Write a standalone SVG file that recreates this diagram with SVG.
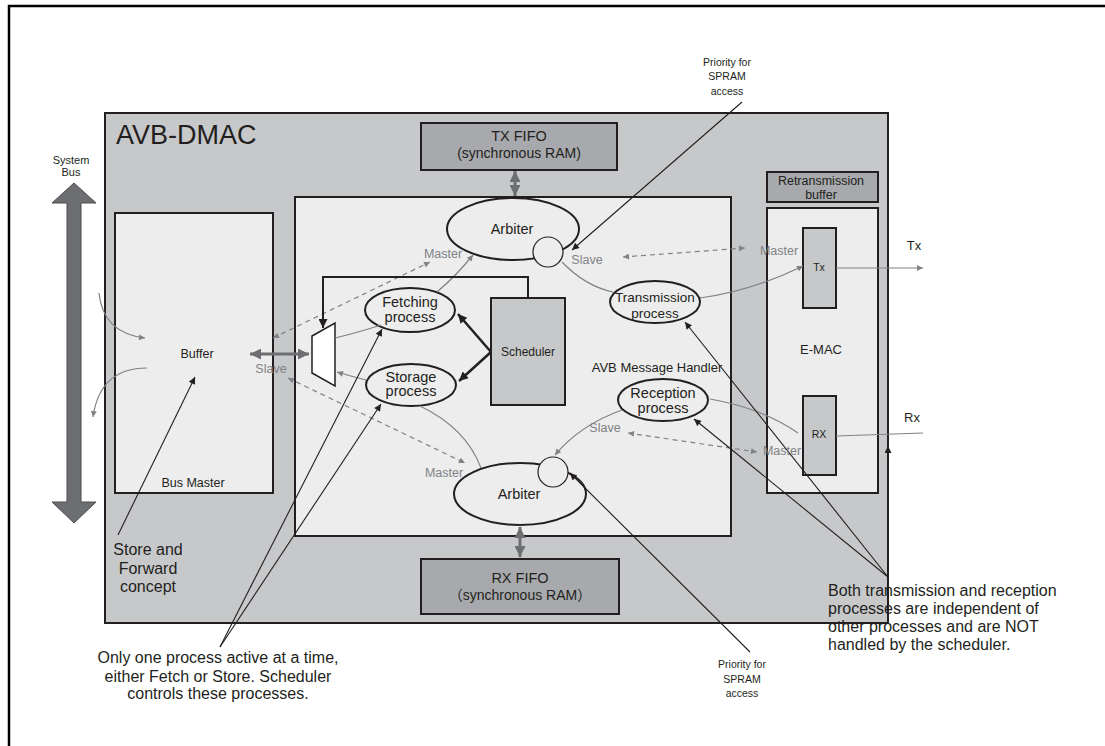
<svg xmlns="http://www.w3.org/2000/svg" width="1105" height="746" viewBox="0 0 1105 746">
<style>
text{font-family:"Liberation Sans",Arial,sans-serif;fill:#231f20}
.box{stroke:#231f20;stroke-width:2}
.outer{fill:#c7c8ca}
.light{fill:#ededed}
.mid{fill:#a7a9ac}
.ell{fill:#ededed;stroke:#231f20;stroke-width:2}
.c{text-anchor:middle}
.g{fill:#808285;font-size:12.5px}
.ann{font-size:16px}
.gl{fill:none;stroke:#808285;stroke-width:1.2}
.gd{fill:none;stroke:#808285;stroke-width:1.2;stroke-dasharray:5 4}
.gt{fill:none;stroke:#6d6e71;stroke-width:3}
.bl{fill:none;stroke:#231f20;stroke-width:1.1}
.bt{fill:none;stroke:#231f20;stroke-width:2.5}
</style>
<defs>
<marker id="ab" viewBox="0 0 10 10" refX="10" refY="5" markerWidth="9" markerHeight="7" markerUnits="userSpaceOnUse" orient="auto-start-reverse"><path d="M0,0 L10,5 L0,10 z" fill="#231f20"/></marker>
<marker id="abt" viewBox="0 0 10 10" refX="10" refY="5" markerWidth="11" markerHeight="9" markerUnits="userSpaceOnUse" orient="auto-start-reverse"><path d="M0,0 L10,5 L0,10 z" fill="#231f20"/></marker>
<marker id="ag" viewBox="0 0 10 10" refX="10" refY="5" markerWidth="9" markerHeight="6" markerUnits="userSpaceOnUse" orient="auto-start-reverse"><path d="M0,0 L10,5 L0,10 z" fill="#808285"/></marker>
<marker id="agt" viewBox="0 0 10 10" refX="10" refY="5" markerWidth="12" markerHeight="11" markerUnits="userSpaceOnUse" orient="auto-start-reverse"><path d="M0,0 L10,5 L0,10 z" fill="#6d6e71"/></marker>
</defs>
<rect width="1105" height="746" fill="#ffffff"/>
<path d="M9,746 L9,6 L1105,6" fill="none" stroke="#000" stroke-width="2.5"/>

<g id="system-bus">
<polygon points="74,183 96,203 81,203 81,502 96,502 74,523 52,502 67,502 67,203 52,203" fill="#6d6e71" stroke="#4d4d4f" stroke-width="1"/>
<text class="c" x="71" y="164" font-size="11">System</text>
<text class="c" x="71" y="176" font-size="11">Bus</text>
</g>

<g id="avb-dmac">
<rect class="box outer" x="105" y="113" width="783" height="510"/>
<text x="116" y="144" font-size="27">AVB-DMAC</text>
</g>

<g id="tx-fifo">
<rect class="box mid" x="421" y="123" width="196" height="47"/>
<text class="c" x="519" y="141" font-size="14.5">TX FIFO</text>
<text class="c" x="519" y="158" font-size="14">(synchronous RAM)</text>
</g>

<g id="rx-fifo">
<rect class="box mid" x="421" y="559" width="198" height="55"/>
<text class="c" x="520" y="583" font-size="14.5">RX FIFO</text>
<text class="c" x="520" y="600" font-size="14" style="font-family:'Liberation Sans','Noto Sans CJK SC',sans-serif">（synchronous RAM）</text>
</g>

<g id="bus-master">
<rect class="box light" x="115" y="213" width="158" height="280"/>
<text class="c" x="197" y="357.5" font-size="12.5">Buffer</text>
<text class="c" x="193" y="486.5" font-size="12.5">Bus Master</text>
</g>

<g id="message-handler">
<rect class="box light" x="295" y="197" width="436" height="339"/>
<text class="c" x="657" y="371.5" font-size="13">AVB Message Handler</text>
</g>

<g id="retransmission-buffer">
<rect class="box mid" x="767" y="172" width="111" height="30"/>
<text class="c" x="821" y="184.5" font-size="12.5">Retransmission</text>
<text class="c" x="821" y="198.5" font-size="12.5">buffer</text>
</g>

<g id="e-mac">
<rect class="box light" x="767" y="208" width="111" height="285"/>
<text class="c" x="821" y="353.5" font-size="13">E-MAC</text>
</g>

<g id="tx-block">
<rect class="box outer" x="803" y="228" width="33" height="80"/>
<text class="c" x="819" y="271" font-size="10.5">Tx</text>
</g>

<g id="rx-block">
<rect class="box outer" x="803" y="396" width="33" height="79"/>
<text class="c" x="819" y="438" font-size="10.5">RX</text>
</g>

<g id="arbiter-top">
<ellipse class="ell" cx="513" cy="229" rx="66" ry="31"/>
<text class="c" x="512" y="234" font-size="14.5">Arbiter</text>
<circle cx="548" cy="252" r="15" fill="#ededed" stroke="#231f20" stroke-width="1.2"/>
</g>

<g id="arbiter-bottom">
<ellipse class="ell" cx="520" cy="494" rx="66" ry="31"/>
<text class="c" x="519" y="499" font-size="14.5">Arbiter</text>
<circle cx="553" cy="472" r="15" fill="#ededed" stroke="#231f20" stroke-width="1.2"/>
</g>

<g id="fetching">
<ellipse class="ell" cx="410" cy="310" rx="45" ry="22"/>
<text class="c" x="410" y="307" font-size="14.5">Fetching</text>
<text class="c" x="410" y="322" font-size="14.5">process</text>
</g>

<g id="storage">
<ellipse class="ell" cx="411" cy="385" rx="45" ry="21"/>
<text class="c" x="411" y="382" font-size="14.5">Storage</text>
<text class="c" x="411" y="396" font-size="14.5">process</text>
</g>

<g id="scheduler">
<rect class="box outer" x="491" y="298" width="74" height="107"/>
<text class="c" x="528" y="356" font-size="12">Scheduler</text>
</g>

<g id="mux">
<polygon points="312,336 335,323 335,386 312,373" fill="#ffffff" stroke="#231f20" stroke-width="1.5"/>
</g>

<g id="transmission">
<ellipse class="ell" cx="655" cy="302" rx="45" ry="21"/>
<text class="c" x="655" y="301.5" font-size="13.5">Transmission</text>
<text class="c" x="655" y="317.5" font-size="13.5">process</text>
</g>

<g id="reception">
<ellipse class="ell" cx="663" cy="400" rx="45" ry="21"/>
<text class="c" x="663" y="398" font-size="14.5">Reception</text>
<text class="c" x="663" y="413" font-size="14.5">process</text>
</g>

<g id="connectors">
<path class="gt" d="M250,354 L309,354" marker-start="url(#agt)" marker-end="url(#agt)"/>
<path class="gt" d="M515,171 L515,196" marker-start="url(#agt)" marker-end="url(#agt)"/>
<path class="gt" d="M520,527 L520,557" marker-start="url(#agt)" marker-end="url(#agt)"/>
<path class="gd" d="M273,338 L430,262" marker-start="url(#ag)" marker-end="url(#ag)"/>
<path class="gd" d="M288,378 L465,463" marker-start="url(#ag)" marker-end="url(#ag)"/>
<path class="gd" d="M623,257 L745,248" marker-start="url(#ag)" marker-end="url(#ag)"/>
<path class="gd" d="M628,433 L757,452" marker-start="url(#ag)" marker-end="url(#ag)"/>
<path class="gl" d="M99,293 Q103,333 145,338" marker-end="url(#ag)"/>
<path class="gl" d="M147,368 Q100,368 93,417" marker-end="url(#ag)"/>
<path class="gl" d="M437,292 Q456,276 473,255" marker-end="url(#ag)"/>
<path class="gl" d="M335,338 Q360,332 381,325"/>
<path class="gl" d="M366,380 Q350,376 337,372" marker-end="url(#ag)"/>
<path class="gl" d="M420,406 Q466,428 481,468"/>
<path class="gl" d="M562,262 Q585,286 613,292"/>
<path class="gl" d="M700,298 Q752,291 803,266" marker-end="url(#ag)"/>
<path class="gl" d="M836,268 L923,268" marker-end="url(#ag)"/>
<path class="gl" d="M798,433 Q762,408 710,399"/>
<path class="gl" d="M622,410 Q580,425 555,455" marker-end="url(#ag)"/>
<path class="gl" d="M836,436 L923,433"/>
<path class="bt" d="M491,352 L458,314" marker-end="url(#abt)"/>
<path class="bt" d="M491,352 L459,381" marker-end="url(#abt)"/>
<path fill="none" stroke="#231f20" stroke-width="2" d="M528,298 L528,277 L323,277 L323,328" marker-end="url(#abt)"/>
<path class="bl" d="M888,462 L888,446" marker-end="url(#ab)"/>
<path class="bl" d="M742,102 L572,250" marker-end="url(#ab)"/>
<path class="bl" d="M750,652 L570,473" marker-end="url(#ab)"/>
<path class="bl" d="M118,535 L195,377" marker-end="url(#ab)"/>
<path class="bl" d="M220,647 L382,329" marker-end="url(#ab)"/>
<path class="bl" d="M220,647 L381,404" marker-end="url(#ab)"/>
<path class="bl" d="M888,577 L685,322" marker-end="url(#ab)"/>
<path class="bl" d="M888,577 L694,419" marker-end="url(#ab)"/>
</g>

<g id="labels">
<text class="g c" x="443" y="257.5">Master</text>
<text class="g c" x="271" y="372.5">Slave</text>
<text class="g c" x="444" y="476.5">Master</text>
<text class="g c" x="587" y="263.5">Slave</text>
<text class="g c" x="779" y="254.5">Master</text>
<text class="g c" x="605" y="431.5">Slave</text>
<text class="g c" x="782" y="454.5">Master</text>
<text class="c" x="914" y="250" font-size="13">Tx</text>
<text class="c" x="912" y="422" font-size="13">Rx</text>
<text class="c" x="727" y="65.5" font-size="10.5">Priority for</text>
<text class="c" x="727" y="80" font-size="10.5">SPRAM</text>
<text class="c" x="727" y="94.5" font-size="10.5">access</text>
<text class="c" x="742" y="668" font-size="10.5">Priority for</text>
<text class="c" x="742" y="682.5" font-size="10.5">SPRAM</text>
<text class="c" x="742" y="697" font-size="10.5">access</text>
<text class="c ann" x="148" y="555">Store and</text>
<text class="c ann" x="148" y="574">Forward</text>
<text class="c ann" x="148" y="592">concept</text>
<text class="c ann" x="218" y="663">Only one process active at a time,</text>
<text class="c ann" x="218" y="682">either Fetch or Store. Scheduler</text>
<text class="c ann" x="218" y="699">controls these processes.</text>
<text class="ann" x="828" y="596">Both transmission and reception</text>
<text class="ann" x="828" y="614">processes are independent of</text>
<text class="ann" x="828" y="632">other processes and are NOT</text>
<text class="ann" x="828" y="650">handled by the scheduler.</text>
</g>
</svg>
